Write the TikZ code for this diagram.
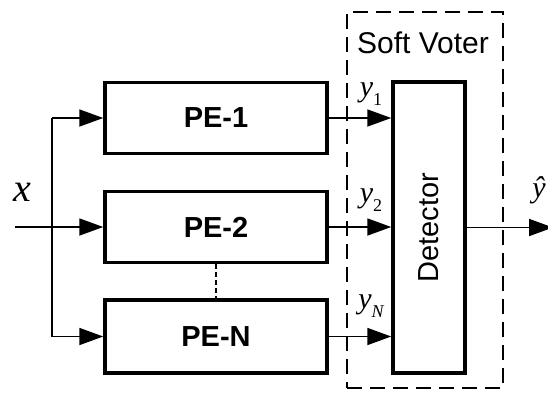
\documentclass[tikz,border=0pt]{standalone}
\usepackage{fontspec}
\setmainfont{Liberation Sans}
\newfontfamily\lserif{Liberation Serif}
\usetikzlibrary{arrows.meta}
\tikzset{
  pebox/.style={draw, line width=3.5pt, minimum width=222pt, minimum height=71pt, inner sep=0pt,
    font=\fontsize{29}{34}\selectfont\bfseries},
  detbox/.style={draw, line width=3.5pt, minimum width=72pt, minimum height=291pt, inner sep=0pt},
  conn/.style={line width=1.8pt},
  arr/.style={conn, -{Triangle[length=24pt, width=17pt]}},
  lab/.style={inner sep=0pt, font=\fontsize{30}{34}\selectfont\lserif\itshape},
}
\newcommand{\subnum}[1]{\raisebox{-0.3em}{\fontsize{18}{18}\selectfont\upshape #1}}
\begin{document}
\begin{tikzpicture}[x=1pt, y=-1pt]
\useasboundingbox (0,0) rectangle (548,394);
% soft voter dashed box
\node[draw, line width=1.8pt, dash pattern=on 15pt off 8pt, minimum width=156pt, minimum height=376pt, inner sep=0pt] (voter) at (425,200) {};
\node[inner sep=0pt, font=\fontsize{30}{34}\selectfont] (vlab) at (423,43) {Soft Voter};
% PE boxes
\node[pebox] (pe1) at (216,118) {PE-1};
\node[pebox] (pe2) at (216,227) {PE-2};
\node[pebox, minimum height=73pt] (peN) at (216,336.5) {PE-N};
% detector
\node[detbox] (det) at (429,227.5) {};
\node[rotate=90, inner sep=0pt, font=\fontsize{29}{34}\selectfont] (dlab) at (429,227.5) {Detector};
% input
\coordinate (xin) at (15,227);
\coordinate (brt) at (52,118);
\coordinate (brb) at (52,336.5);
\draw[arr] (xin) -- (pe2.west);
\draw[conn] (brt) -- (brb);
\draw[arr] (brt) -- (pe1.west);
\draw[arr] (brb) -- (peN.west);
\node[lab, font=\fontsize{40}{44}\selectfont\lserif\itshape] (xl) at (22,192) {x};
% dashed link between PE-2 and PE-N
\draw[conn, line width=1.2pt, dash pattern=on 5pt off 3pt] (pe2.south) -- (peN.north);
% outputs of PEs
\draw[arr] (pe1.east) -- (pe1.east -| det.west);
\draw[arr] (pe2.east) -- (pe2.east -| det.west);
\draw[arr] (peN.east) -- (peN.east -| det.west);
\node[lab] (y1) at (371,94) {y\subnum{1}};
\node[lab] (y2) at (371,200) {y\subnum{2}};
\node[lab] (yN) at (371,306) {y\subnum{\itshape N}};
% output
\coordinate (out) at (553,227.5);
\draw[arr] (det.east) -- (out);
\node[lab] (yh) at (539,190) {ŷ};
\end{tikzpicture}
\end{document}
